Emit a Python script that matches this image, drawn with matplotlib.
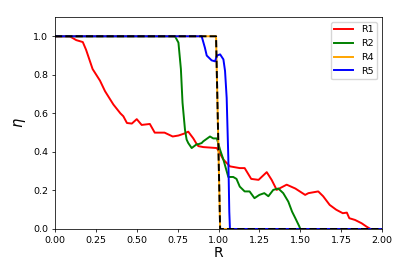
import numpy as np
from matplotlib import pyplot as plt

# values
r1_x = [0.0, 0.09, 0.13, 0.17, 0.19, 0.23, 0.275, 0.306, 0.357, 0.40, 0.418, 0.44, 0.47, 0.50,
        0.53, 0.58, 0.61, 0.67, 0.72, 0.755, 0.79, 0.815, 0.846, 0.867, 0.877, 0.907, 0.99,
        1.03, 1.07, 1.13, 1.16, 1.20, 1.245, 1.295, 1.325, 1.356, 1.417, 1.47, 1.53, 1.55,
        1.61, 1.64, 1.68, 1.72, 1.76, 1.785, 1.80, 1.835, 1.875, 1.906, 1.93]
r1_y = [1.0, 1.0, 0.98, 0.97, 0.93, 0.83, 0.77, 0.715, 0.646, 0.60, 0.585, 0.55, 0.547, 0.57,
        0.54, 0.545, 0.50, 0.50, 0.48, 0.485, 0.495, 0.505, 0.47, 0.44, 0.43, 0.425, 0.42,
        0.36, 0.325, 0.316, 0.316, 0.26, 0.255, 0.295, 0.255, 0.203, 0.23, 0.21, 0.177, 0.186,
        0.195, 0.17, 0.125, 0.10, 0.082, 0.085, 0.056, 0.047, 0.03, 0.012, 0.0]

r2_x = [0.0, 0.734, 0.755, 0.77, 0.78, 0.795, 0.805, 0.815, 0.836, 0.867, 0.877, 0.897, 0.907,
        0.948, 0.968, 0.99, 1.01, 1.03, 1.06, 1.09, 1.11, 1.13, 1.16, 1.19, 1.22, 1.25, 1.28,
        1.305, 1.335, 1.366, 1.396, 1.427, 1.45, 1.47, 1.495, 1.50, 2.0]
r2_y = [1.0, 1.0, 0.967, 0.83, 0.655, 0.515, 0.464, 0.446, 0.42, 0.44, 0.44, 0.446, 0.455,
        0.48, 0.47, 0.47, 0.41, 0.36, 0.27, 0.27, 0.26, 0.22, 0.195, 0.195, 0.16, 0.177, 0.186,
        0.17, 0.203, 0.21, 0.186, 0.142, 0.09, 0.056, 0.012, 0.0, 0.0]

r4_x = [0.0, 0.985, 1.01, 2.0]
r4_y = [1.0, 1.0, 0.0, 0.0]

r5_x = [0.0, 0.897, 0.917, 0.928, 0.958, 0.979, 0.99, 1.01, 1.03, 1.04, 1.05, 1.06, 1.066,
        1.07, 2.0]
r5_y = [1.0, 1.0, 0.94, 0.90, 0.875, 0.87, 0.90, 0.906, 0.88, 0.82, 0.68, 0.37, 0.09,
        0.0, 0.0]

# black dashed reference curve lying on top of R4
r3_x = r4_x
r3_y = r4_y

x_ticks = [0.0, 0.25, 0.5, 0.75, 1.0, 1.25, 1.5, 1.75, 2.0]
y_ticks = [0.0, 0.2, 0.4, 0.6, 0.8, 1.0]

plt.rcParams['font.family'] = 'DejaVu Sans'
fig = plt.figure(figsize=(4.07, 2.79), dpi=100)
ax = fig.add_axes([55 / 407, 50 / 279, 327 / 407, 212 / 279])

lw = 1.4
ax.plot(r1_x, r1_y, color='red', lw=lw, label='R1')
ax.plot(r2_x, r2_y, color='green', lw=lw, label='R2')
ax.plot(r4_x, r4_y, color='orange', lw=lw, label='R4')
ax.plot(r5_x, r5_y, color='blue', lw=lw, label='R5')
ax.plot(r3_x, r3_y, color='black', lw=lw, linestyle=(0, (3.7, 1.6)))

ax.set_xlim(0, 2)
ax.set_ylim(0, 1.1)
ax.set_xticks(x_ticks)
ax.set_yticks(y_ticks)
ax.set_xticklabels([f'{v:.2f}' for v in x_ticks])
ax.set_yticklabels([f'{v:.1f}' for v in y_ticks])
ax.tick_params(labelsize=6.8, length=2.4, width=0.55, pad=2.4)
for s in ax.spines.values():
    s.set_linewidth(0.55)

ax.set_xlabel('R', fontsize=10, labelpad=1)
ax.set_ylabel(r'$\eta$', fontsize=10.5, labelpad=4)

ax.legend(loc='upper right', fontsize=6.8, handlelength=2.0, borderpad=0.4,
          labelspacing=0.5, framealpha=0.8)

fig.savefig('out.png', dpi=100)
